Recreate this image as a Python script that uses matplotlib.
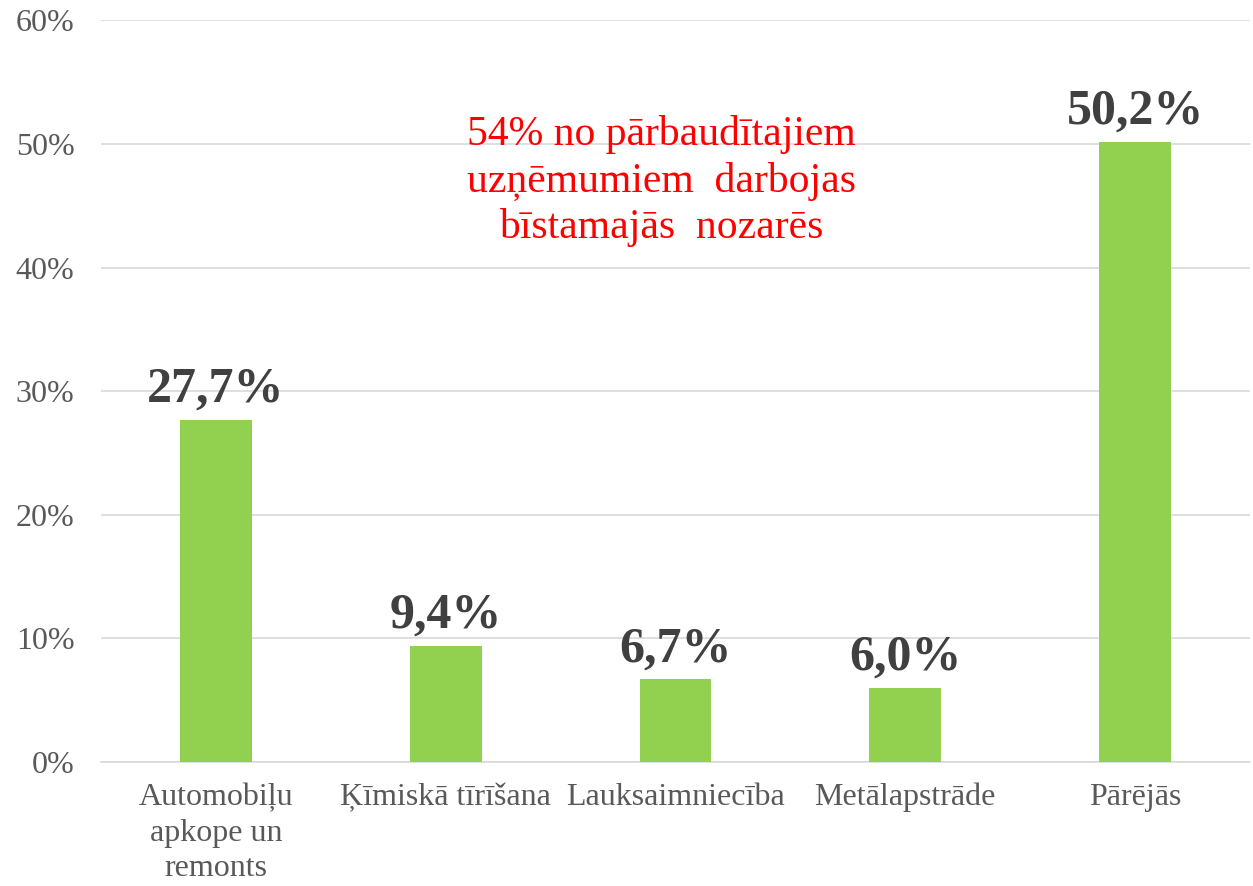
import matplotlib.pyplot as plt
from matplotlib.ticker import PercentFormatter

categories = ["Automobiļu\napkope un\nremonts", "Ķīmiskā tīrīšana", "Lauksaimniecība",
              "Metālapstrāde", "Pārējās"]
values = [27.7, 9.4, 6.7, 6.0, 50.2]
value_labels = ["27,7%", "9,4%", "6,7%", "6,0%", "50,2%"]
note = "54% no pārbaudītajiem\nuzņēmumiem  darbojas\nbīstamajās  nozarēs"

plt.rcParams["font.family"] = ["Liberation Serif", "DejaVu Serif"]

fig = plt.figure(figsize=(12.53, 8.86), dpi=100)
ax = fig.add_axes([0.0806, 0.140, 0.917, 0.837])

x = range(len(categories))
bars = ax.bar(x, values, width=0.313, color="#92D050", zorder=3)

for b, lab in zip(bars, value_labels):
    ax.annotate(lab, (b.get_x() + b.get_width() / 2, b.get_height()),
                xytext=(0, 5), textcoords="offset points", ha="center", va="bottom",
                fontsize=36, fontweight="bold", color="#404040")

ax.set_xlim(-0.5, len(categories) - 0.5)
ax.set_ylim(0, 60)
ax.set_yticks(range(0, 61, 10))
ax.yaxis.set_major_formatter(PercentFormatter(decimals=0))
ax.set_xticks(list(x))
ax.set_xticklabels(categories, linespacing=1.3)
ax.tick_params(axis="both", length=0, colors="#595959")
ax.tick_params(axis="x", pad=15, labelsize=23)
ax.tick_params(axis="y", pad=19, labelsize=23)

ax.grid(axis="y", color="#D9D9D9", linewidth=1.2, zorder=0)
for s in ["top", "right", "left"]:
    ax.spines[s].set_visible(False)
ax.spines["bottom"].set_color("#D9D9D9")
ax.spines["bottom"].set_linewidth(1.2)

ax.text(1.94, 47.0, note, ha="center", va="center", fontsize=30, color="#FF0000",
        linespacing=1.25, zorder=4)

fig.savefig("out.png", dpi=100, facecolor="white")
